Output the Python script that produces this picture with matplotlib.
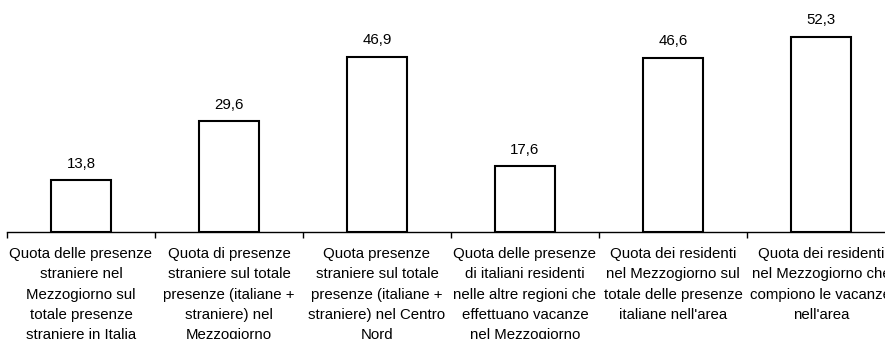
import matplotlib.pyplot as plt
import numpy as np

plt.rcParams['font.family'] = ['Liberation Sans', 'DejaVu Sans']

# indicatori (valori percentuali)
categorie = [
    "Quota delle presenze\nstraniere nel\nMezzogiorno sul\ntotale presenze\nstraniere in Italia",
    "Quota di presenze\nstraniere sul totale\npresenze (italiane +\nstraniere) nel\nMezzogiorno",
    "Quota presenze\nstraniere sul totale\npresenze (italiane +\nstraniere) nel Centro\nNord",
    "Quota delle presenze\ndi italiani residenti\nnelle altre regioni che\neffettuano vacanze\nnel Mezzogiorno",
    "Quota dei residenti\nnel Mezzogiorno sul\ntotale delle presenze\nitaliane nell'area",
    "Quota dei residenti\nnel Mezzogiorno che\ncompiono le vacanze\nnell'area",
]
valori = [13.8, 29.6, 46.9, 17.6, 46.6, 52.3]

W, H = 885, 339
fig = plt.figure(figsize=(W / 100, H / 100), dpi=100)

# asse in pixel: base a y=231.7, 148 px per categoria
scala = 3.73
ymax = 60
ax = fig.add_axes([7 / W, (H - 231.7) / H, 888 / W, ymax * scala / H])

x = np.arange(len(valori))
ax.bar(x, valori, width=0.4, color='white', edgecolor='black', linewidth=1.5)

for xi, v in zip(x, valori):
    ax.annotate(f"{v:.1f}".replace('.', ','), (xi, v), xytext=(0, 9),
                textcoords='offset points', ha='center', va='baseline',
                fontsize=10.8)

ax.set_xlim(-0.5, len(valori) - 0.5)
ax.set_ylim(0, ymax)

ax.set_xticks(x)
ax.set_xticklabels(categorie, fontsize=10.8, linespacing=1.58)
ax.tick_params(axis='x', which='major', length=0, pad=11)
ax.set_xticks(np.arange(-0.5, len(valori), 1.0), minor=True)
ax.tick_params(axis='x', which='minor', length=4.5, width=1.0, direction='out')

ax.set_yticks([])
for s in ['top', 'right', 'left']:
    ax.spines[s].set_visible(False)
ax.spines['bottom'].set_linewidth(1.0)

fig.savefig('out.png', dpi=100)
